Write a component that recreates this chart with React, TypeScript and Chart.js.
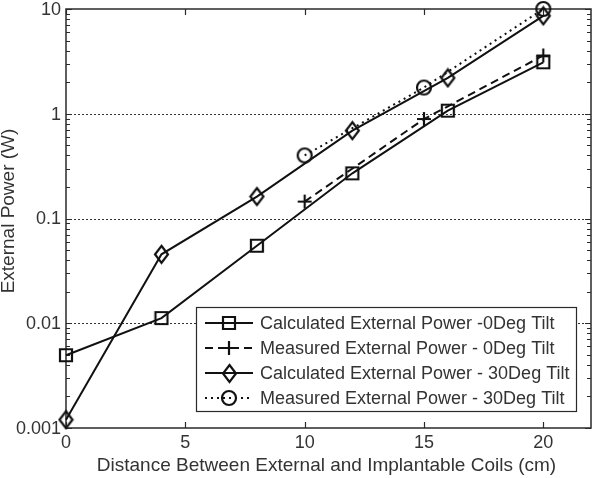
import React, { useEffect, useRef } from 'react';
import { Chart, registerables } from 'chart.js';

Chart.register(...registerables);

// ---- data ----
const distCalc = [0, 4, 8, 12, 16, 20];
const calc0Deg = [0.00495, 0.0112, 0.055, 0.27, 1.07, 3.1];
const calc30Deg = [0.0012, 0.0455, 0.162, 0.69, 2.2, 8.6];
const distMeas = [10, 15, 20];
const meas0Deg = [0.145, 0.89, 3.6];
const meas30Deg = [0.4, 1.78, 10];
const xTicks = [0, 5, 10, 15, 20];
const xTickLabels = ['0', '5', '10', '15', '20'];
const yTicks = [0.001, 0.01, 0.1, 1, 10];
const yTickLabels = ['0.001', '0.01', '0.1', '1', '10'];
const seriesNames = [
  'Calculated External Power -0Deg Tilt',
  'Measured External Power - 0Deg Tilt',
  'Calculated External Power - 30Deg Tilt',
  'Measured External Power - 30Deg Tilt',
];
const xTitle = 'Distance Between External and Implantable Coils (cm)';
const yTitle = 'External Power (W)';

const INK = '#111111';
const TEXT = '#333333';
const FONT = '"Liberation Sans", Arial, Helvetica, sans-serif';

function makeMarker(kind: string): HTMLCanvasElement {
  const c = document.createElement('canvas');
  let w = 16, h = 16;
  if (kind === 'diamond') { w = 17; h = 21; }
  if (kind === 'circle') { w = 18; h = 18; }
  c.width = w; c.height = h;
  const ctx = c.getContext('2d')!;
  ctx.strokeStyle = INK;
  ctx.lineWidth = 2.2;
  ctx.beginPath();
  if (kind === 'square') {
    ctx.rect(2, 2, 12, 12);
  } else if (kind === 'plus') {
    ctx.moveTo(8, 1); ctx.lineTo(8, 15);
    ctx.moveTo(1, 8); ctx.lineTo(15, 8);
  } else if (kind === 'diamond') {
    ctx.moveTo(8.5, 2); ctx.lineTo(15, 10.5); ctx.lineTo(8.5, 19); ctx.lineTo(2, 10.5); ctx.closePath();
  } else {
    ctx.arc(9, 9, 7, 0, Math.PI * 2);
  }
  ctx.stroke();
  return c;
}

export default function App() {
  const ref = useRef<HTMLCanvasElement | null>(null);

  useEffect(() => {
    if (!ref.current) return;
    const markers = [makeMarker('square'), makeMarker('plus'), makeMarker('diamond'), makeMarker('circle')];
    const dashes = [[], [8, 5], [], [2, 4]];
    const xs = [distCalc, distMeas, distCalc, distMeas];
    const ys = [calc0Deg, meas0Deg, calc30Deg, meas30Deg];

    const datasets = seriesNames.map((name, i) => ({
      label: name,
      data: xs[i].map((x, j) => ({ x, y: ys[i][j] })),
      showLine: true,
      borderColor: INK,
      backgroundColor: INK,
      borderWidth: 2,
      borderDash: dashes[i],
      pointStyle: markers[i] as any,
      pointRadius: 7,
      pointHoverRadius: 7,
      tension: 0,
      fill: false,
      clip: false as any,
    }));

    const decor = {
      id: 'decor',
      beforeDatasetsDraw(chart: any) {
        const { ctx, chartArea: a, scales } = chart;
        const ysc = scales.y;
        const xsc = scales.x;
        ctx.save();
        ctx.strokeStyle = '#333';
        ctx.lineWidth = 1;
        ctx.setLineDash([2, 2]);
        yTicks.forEach((v) => {
          const py = Math.round(ysc.getPixelForValue(v)) + 0.5;
          if (py < a.top + 2 || py > a.bottom - 2) return;
          ctx.beginPath();
          ctx.moveTo(a.left, py);
          ctx.lineTo(a.right, py);
          ctx.stroke();
        });
        ctx.setLineDash([]);
        ctx.strokeStyle = '#2a2a2a';
        ctx.lineWidth = 1.5;
        ctx.strokeRect(a.left, a.top, a.right - a.left, a.bottom - a.top);
        ctx.lineWidth = 1.2;
        ctx.beginPath();
        xTicks.forEach((v) => {
          const px = Math.round(xsc.getPixelForValue(v)) + 0.5;
          ctx.moveTo(px, a.bottom); ctx.lineTo(px, a.bottom - 6);
          ctx.moveTo(px, a.top); ctx.lineTo(px, a.top + 6);
        });
        for (let d = -3; d <= 1; d++) {
          for (let m = 1; m <= 9; m++) {
            const v = m * Math.pow(10, d);
            if (v > 10.0001) break;
            const py = Math.round(ysc.getPixelForValue(v)) + 0.5;
            const len = m === 1 ? 6 : 4;
            ctx.moveTo(a.left, py); ctx.lineTo(a.left + len, py);
            ctx.moveTo(a.right, py); ctx.lineTo(a.right - len, py);
          }
        }
        ctx.stroke();
        ctx.fillStyle = TEXT;
        ctx.font = `18px ${FONT}`;
        ctx.textAlign = 'center';
        ctx.textBaseline = 'top';
        xTicks.forEach((v, i) => {
          ctx.fillText(xTickLabels[i], xsc.getPixelForValue(v), a.bottom + 6);
        });
        ctx.textAlign = 'right';
        ctx.textBaseline = 'middle';
        yTicks.forEach((v, i) => {
          ctx.fillText(yTickLabels[i], a.left - 5, ysc.getPixelForValue(v) + 1);
        });
        ctx.restore();
      },
      afterDraw(chart: any) {
        const { ctx, chartArea: a } = chart;
        ctx.save();
        ctx.fillStyle = TEXT;
        ctx.font = `19px ${FONT}`;
        ctx.textAlign = 'center';
        ctx.textBaseline = 'middle';
        ctx.fillText(xTitle, (a.left + a.right) / 2 - 2, 466);
        ctx.save();
        ctx.translate(14, 211);
        ctx.rotate(-Math.PI / 2);
        ctx.textBaseline = 'alphabetic';
        ctx.fillText(yTitle, 0, 0);
        ctx.restore();
        const bx = 196, by = 307, bw = 380, bh = 104;
        ctx.fillStyle = '#ffffff';
        ctx.fillRect(bx, by, bw, bh);
        ctx.strokeStyle = '#2a2a2a';
        ctx.lineWidth = 1.2;
        ctx.strokeRect(bx + 0.5, by + 0.5, bw, bh);
        const rows = [323, 348, 373, 398];
        seriesNames.forEach((name, i) => {
          const ry = rows[i];
          ctx.strokeStyle = INK;
          ctx.lineWidth = 2;
          ctx.setLineDash(dashes[i]);
          ctx.beginPath();
          ctx.moveTo(205, ry);
          ctx.lineTo(253, ry);
          ctx.stroke();
          ctx.setLineDash([]);
          const mk = markers[i];
          ctx.drawImage(mk, Math.round(229 - mk.width / 2), Math.round(ry - mk.height / 2));
          ctx.fillStyle = TEXT;
          ctx.font = `18px ${FONT}`;
          ctx.textAlign = 'left';
          ctx.textBaseline = 'middle';
          ctx.fillText(name, 260, ry + 1);
        });
        ctx.restore();
      },
    };

    const chart = new Chart(ref.current, {
      type: 'scatter',
      data: { datasets: datasets as any },
      options: {
        animation: false,
        responsive: false,
        layout: { padding: { top: 8, right: 2, left: 66, bottom: 50 } },
        plugins: { legend: { display: false }, tooltip: { enabled: false } },
        scales: {
          x: { type: 'linear', min: 0, max: 22, display: false },
          y: { type: 'logarithmic', min: 0.001, max: 10, display: false },
        },
      },
      plugins: [decor],
    });
    return () => chart.destroy();
  }, []);

  return (
    <div style={{ position: 'fixed', left: 0, top: 0, width: 600, height: 478, background: '#fff' }}>
      <canvas ref={ref} width={600} height={478} style={{ display: 'block', width: 600, height: 478 }} />
    </div>
  );
}
